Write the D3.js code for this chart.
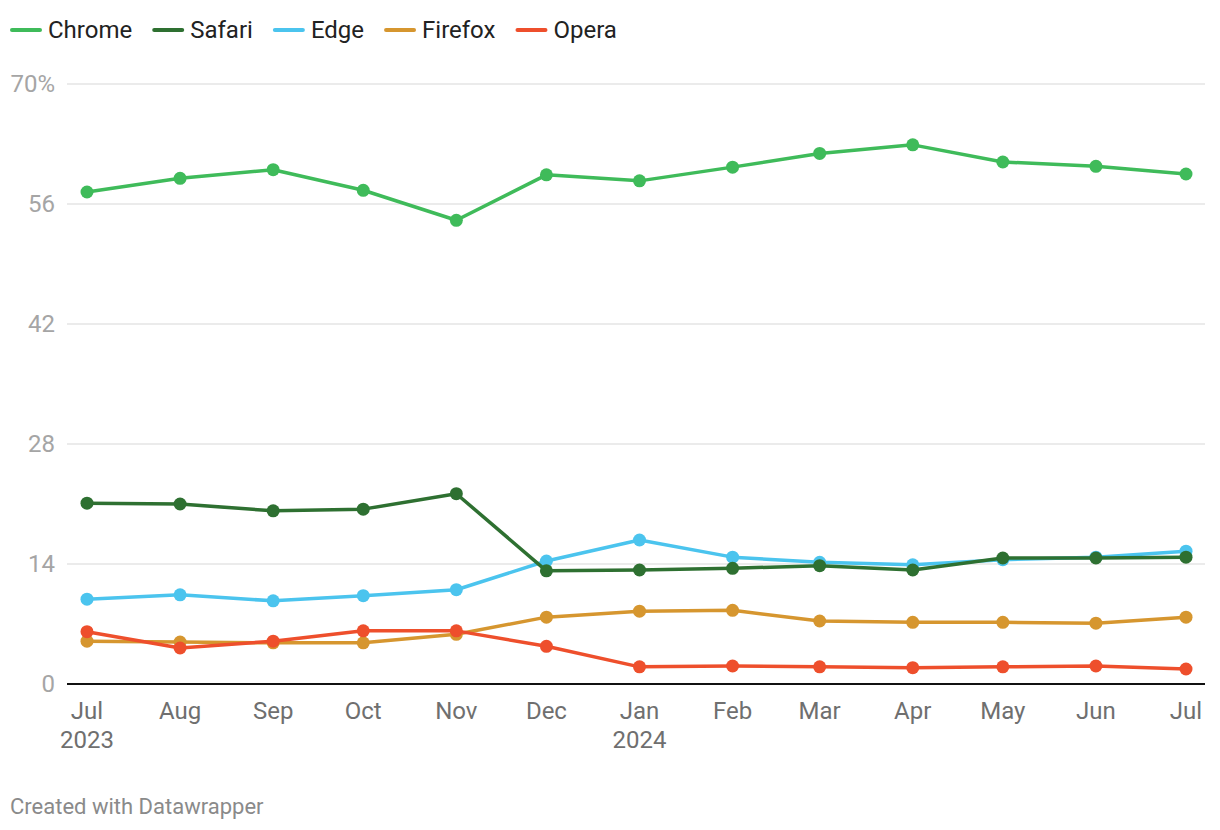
<!DOCTYPE html>
<html><head><meta charset="utf-8">
<script src="https://cdn.jsdelivr.net/npm/d3@7"></script>
<style>body{margin:0;background:#fff;}svg{display:block;font-family:Roboto,sans-serif;}</style>
</head><body><svg id="c" width="1220" height="830"></svg>
<script>
const months = ["2023-07-01","2023-08-01","2023-09-01","2023-10-01","2023-11-01","2023-12-01","2024-01-01","2024-02-01","2024-03-01","2024-04-01","2024-05-01","2024-06-01","2024-07-01"];
const monthLabels = ["Jul","Aug","Sep","Oct","Nov","Dec","Jan","Feb","Mar","Apr","May","Jun","Jul"];
const yearLabels = ["2023","","","","","","2024","","","","","",""];
const seriesNames = ["Chrome","Safari","Edge","Firefox","Opera"];
const chrome  = [57.4,59.0,60.0,57.6,54.1,59.4,58.7,60.3,61.9,62.9,60.9,60.4,59.5];
const safari  = [21.1,21.0,20.2,20.4,22.2,13.2,13.3,13.5,13.8,13.3,14.7,14.7,14.8];
const edge    = [9.9,10.4,9.7,10.3,11.0,14.35,16.8,14.8,14.2,13.9,14.5,14.8,15.5];
const firefox = [5.0,4.9,4.8,4.8,5.8,7.8,8.5,8.6,7.35,7.2,7.2,7.1,7.8];
const opera   = [6.1,4.2,5.0,6.2,6.2,4.4,2.0,2.1,2.0,1.9,2.0,2.1,1.75];
const yTicks = [0,14,28,42,56,70];
const colors = ["#3fbb5a","#2e7031","#4bc4ee","#d6962f","#ee4f2c"];

const values = [chrome,safari,edge,firefox,opera];
const parse = d3.timeParse("%Y-%m-%d");
const dates = months.map(parse);
const svg = d3.select("#c");

const x = d3.scaleTime().domain([dates[0],dates[dates.length-1]]).range([87,1186]);
const y = d3.scaleLinear().domain([0,70]).range([684,84]);

// gridlines
svg.append("g").selectAll("line").data(yTicks.filter(t=>t>0)).join("line")
  .attr("x1",67).attr("x2",1205).attr("y1",d=>y(d)).attr("y2",d=>y(d))
  .attr("stroke","#e4e4e4").attr("stroke-width",1.5);
// y labels
svg.append("g").selectAll("text").data(yTicks).join("text")
  .attr("x",55).attr("y",d=>y(d)).attr("dy","0.35em").attr("text-anchor","end")
  .attr("fill","#a5a5a5").attr("font-size",24)
  .text(d=>d===70?"70%":d);

// x labels
const xl = svg.append("g");
xl.selectAll("text.m").data(dates).join("text").attr("class","m")
  .attr("x",d=>x(d)).attr("y",719).attr("text-anchor","middle")
  .attr("fill","#6f6f6f").attr("font-size",24).text((d,i)=>monthLabels[i]);
xl.selectAll("text.yr").data(dates).join("text").attr("class","yr")
  .attr("x",d=>x(d)).attr("y",748).attr("text-anchor","middle")
  .attr("fill","#6f6f6f").attr("font-size",24).text((d,i)=>yearLabels[i]);

const line = d3.line().x((d,i)=>x(dates[i])).y(d=>y(d));
const order = [0,2,3,4,1];
order.forEach(k=>{
  const g = svg.append("g");
  g.append("path").datum(values[k]).attr("d",line).attr("fill","none")
    .attr("stroke",colors[k]).attr("stroke-width",3.5).attr("stroke-linejoin","round");
  g.selectAll("circle").data(values[k]).join("circle")
    .attr("cx",(d,i)=>x(dates[i])).attr("cy",d=>y(d)).attr("r",6.5).attr("fill",colors[k]);
});

// baseline
svg.append("line").attr("x1",67).attr("x2",1205).attr("y1",y(0)).attr("y2",y(0))
  .attr("stroke","#111").attr("stroke-width",2);

// legend
const lg = svg.append("g");
let lx = 10;
seriesNames.forEach((n,i)=>{
  lg.append("line").attr("x1",lx+2).attr("x2",lx+30).attr("y1",30).attr("y2",30)
    .attr("stroke",colors[i]).attr("stroke-width",4).attr("stroke-linecap","round");
  const t = lg.append("text").attr("x",lx+38).attr("y",30).attr("dy","0.35em")
    .attr("fill","#222").attr("font-size",24).text(n);
  lx += 38 + t.node().getComputedTextLength() + 20;
});

svg.append("text").attr("x",10).attr("y",814).attr("fill","#8a8a8a").attr("font-size",22)
  .text("Created with Datawrapper");
</script></body></html>
